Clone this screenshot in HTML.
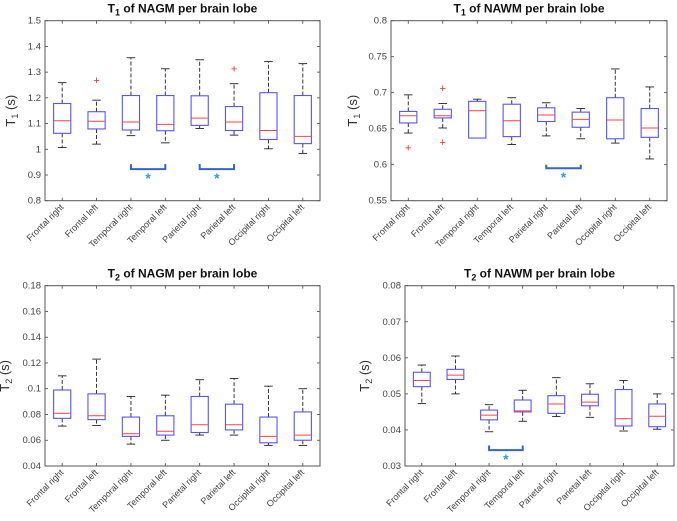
<!DOCTYPE html>
<html><head><meta charset="utf-8"><style>
html,body{margin:0;padding:0;background:#fff;}
svg{display:block;font-family:"Liberation Sans",sans-serif;}
</style></head><body>
<svg id="fig" width="677" height="521" viewBox="0 0 677 521"></svg>
<script>
const categories = ["Frontal right","Frontal left","Temporal right","Temporal left","Parietal right","Parietal left","Occipital right","Occipital left"];
// [lowerWhisker, Q1, median, Q3, upperWhisker]
const t1Nagm = [[1.007,1.062,1.111,1.178,1.259],[1.02,1.079,1.109,1.146,1.191],[1.053,1.075,1.106,1.209,1.356],[1.025,1.072,1.097,1.209,1.313],[1.081,1.093,1.121,1.208,1.348],[1.055,1.073,1.106,1.166,1.255],[1.002,1.038,1.073,1.220,1.341],[0.984,1.022,1.050,1.209,1.333]];
const t1NagmOutliers = [[],[1.267],[],[],[],[1.312],[],[]];
const t1Nawm = [[0.644,0.658,0.668,0.674,0.697],[0.651,0.665,0.668,0.677,0.685],[0.637,0.637,0.675,0.688,0.691],[0.628,0.639,0.661,0.684,0.693],[0.640,0.660,0.669,0.679,0.686],[0.636,0.652,0.663,0.673,0.678],[0.630,0.636,0.662,0.693,0.733],[0.608,0.638,0.651,0.678,0.708]];
const t1NawmOutliers = [[0.623],[0.706,0.631],[],[],[],[],[],[]];
const t2Nagm = [[0.071,0.077,0.081,0.099,0.110],[0.0715,0.076,0.079,0.096,0.123],[0.057,0.063,0.065,0.078,0.094],[0.060,0.064,0.067,0.079,0.095],[0.064,0.066,0.072,0.094,0.107],[0.064,0.068,0.072,0.088,0.108],[0.056,0.058,0.063,0.078,0.102],[0.056,0.060,0.064,0.082,0.100]];
const t2Nawm = [[0.0473,0.052,0.0537,0.056,0.058],[0.050,0.054,0.0552,0.0568,0.0605],[0.0395,0.0428,0.0441,0.0455,0.047],[0.0424,0.045,0.0453,0.0483,0.051],[0.0437,0.0446,0.0472,0.0495,0.0545],[0.0435,0.0467,0.0477,0.0499,0.0528],[0.0397,0.0411,0.0431,0.0512,0.0537],[0.0402,0.0409,0.0438,0.0472,0.050]];
const t1NagmTicks = ["0.8","0.9","1","1.1","1.2","1.3","1.4","1.5"];
const t1NawmTicks = ["0.55","0.6","0.65","0.7","0.75","0.8"];
const t2NagmTicks = ["0.04","0.06","0.08","0.1","0.12","0.14","0.16","0.18"];
const t2NawmTicks = ["0.03","0.04","0.05","0.06","0.07","0.08"];
// significance: [fromIndex, toIndex, barValue, tipValue, starValue]
const t1NagmSig = [[2,3,0.923,0.942,0.893],[4,5,0.923,0.942,0.893]];
const t1NawmSig = [[4,5,0.595,0.600,0.584]];
const t2NawmSig = [[2,3,0.0344,0.0357,0.0322]];

const NS="http://www.w3.org/2000/svg";
const svg=document.getElementById('fig');
function mk(tag,attrs,parent){const e=document.createElementNS(NS,tag);for(const k in attrs)e.setAttribute(k,attrs[k]);(parent||svg).appendChild(e);return e;}

function panel(o){
  const g=mk('g',{});
  
  
  const y0=o.ymin,y1=o.ymax;
  const yS=v=>o.b-(v-y0)/(y1-y0)*(o.b-o.t);
  const xS=i=>o.l+(i+0.5)/categories.length*(o.r-o.l);
  const bw=(o.r-o.l)/categories.length*0.5;
  // title
  const tt=mk('text',{x:(o.l+o.r)/2,y:o.t-8,'text-anchor':'middle','font-size':'12','font-weight':'bold',fill:'#111'},g);
  
  
  tt.innerHTML=o.title[0]+'<tspan font-size="9" dy="3">'+o.title[1]+'</tspan><tspan dy="-3">'+o.title[2]+'</tspan>';
  // y label
  const yl=mk('text',{transform:`translate(${o.l-o.ylOff},${(o.t+o.b)/2}) rotate(-90)`,'text-anchor':'middle','font-size':'13',fill:'#333'},g);
  
  
  yl.innerHTML='T<tspan font-size="9" dy="3">'+o.sub+'</tspan><tspan dy="-3"> (s)</tspan>';
  // ticks
  o.ticks.forEach(tl=>{
    const v=parseFloat(tl),y=yS(v);
    mk('line',{x1:o.l,x2:o.l+3,y1:y,y2:y,stroke:'#444','stroke-width':0.8},g);
    mk('line',{x1:o.r,x2:o.r-3,y1:y,y2:y,stroke:'#444','stroke-width':0.8},g);
    const t=mk('text',{x:o.l-4,y:y+3,'text-anchor':'end','font-size':'9.5',fill:'#444'},g);
    
    
    t.textContent=tl;
  });
  categories.forEach((c,i)=>{
    const x=xS(i);
    mk('line',{x1:x,x2:x,y1:o.b,y2:o.b-3,stroke:'#444','stroke-width':0.8},g);
    mk('line',{x1:x,x2:x,y1:o.t,y2:o.t+3,stroke:'#444','stroke-width':0.8},g);
    const t=mk('text',{transform:`translate(${x+2},${o.b+7}) rotate(-45)`,'text-anchor':'end','font-size':'9',fill:'#444'},g);
    
    
    t.textContent=c;
    const d=o.data[i];
    const bg=mk('g',{},g);
    
    
    mk('line',{x1:x,x2:x,y1:yS(d[3]),y2:yS(d[4]),stroke:'#222','stroke-dasharray':'4,2','stroke-width':0.9},bg);
    mk('line',{x1:x,x2:x,y1:yS(d[1]),y2:yS(d[0]),stroke:'#222','stroke-dasharray':'4,2','stroke-width':0.9},bg);
    mk('line',{x1:x-bw/4,x2:x+bw/4,y1:yS(d[4]),y2:yS(d[4]),stroke:'#222','stroke-width':0.9},bg);
    mk('line',{x1:x-bw/4,x2:x+bw/4,y1:yS(d[0]),y2:yS(d[0]),stroke:'#222','stroke-width':0.9},bg);
    mk('rect',{x:x-bw/2,y:yS(d[3]),width:bw,height:Math.max(0.5,yS(d[1])-yS(d[3])),fill:'none',stroke:'#5555ff','stroke-width':1.1},bg);
    mk('line',{x1:x-bw/2,x2:x+bw/2,y1:yS(d[2]),y2:yS(d[2]),stroke:'#ff4444','stroke-width':1},bg);
    (o.out?o.out[i]:[]).forEach(v=>{
      const p=mk('text',{x:x,y:yS(v)+3.5,'text-anchor':'middle','font-size':'11',fill:'#ff2222'},bg);
      
      
      p.textContent='+';
    });
  });
  (o.sig||[]).forEach(s=>{
    const a=xS(s[0]),b=xS(s[1]);
    const pl=mk('polyline',{points:`${a},${yS(s[3])} ${a},${yS(s[2])} ${b},${yS(s[2])} ${b},${yS(s[3])}`,fill:'none',stroke:'#3366cc','stroke-width':2},g);
    
    
    const st=mk('text',{x:(a+b)/2,y:yS(s[4])+6,'text-anchor':'middle','font-size':'14','font-weight':'bold',fill:'#3399dd'},g);
    
    
    st.textContent='*';
  });
  mk('rect',{x:o.l,y:o.t,width:o.r-o.l,height:o.b-o.t,fill:'none',stroke:'#555','stroke-width':1},g);
}
panel({name:'t1-nagm-panel',title:['T','1',' of NAGM per brain lobe'],sub:'1',l:45,r:320,t:20.7,b:200.7,ymin:0.8,ymax:1.5,ticks:t1NagmTicks,data:t1Nagm,out:t1NagmOutliers,sig:t1NagmSig,ylOff:30});
panel({name:'t1-nawm-panel',title:['T','1',' of NAWM per brain lobe'],sub:'1',l:391,r:667,t:20.7,b:200.7,ymin:0.55,ymax:0.8,ticks:t1NawmTicks,data:t1Nawm,out:t1NawmOutliers,sig:t1NawmSig,ylOff:34});
panel({name:'t2-nagm-panel',title:['T','2',' of NAGM per brain lobe'],sub:'2',l:45,r:320,t:285.7,b:466,ymin:0.04,ymax:0.18,ticks:t2NagmTicks,data:t2Nagm,ylOff:36});
panel({name:'t2-nawm-panel',title:['T','2',' of NAWM per brain lobe'],sub:'2',l:405,r:674,t:285.7,b:466,ymin:0.03,ymax:0.08,ticks:t2NawmTicks,data:t2Nawm,sig:t2NawmSig,ylOff:36});
</script>
</body></html>
